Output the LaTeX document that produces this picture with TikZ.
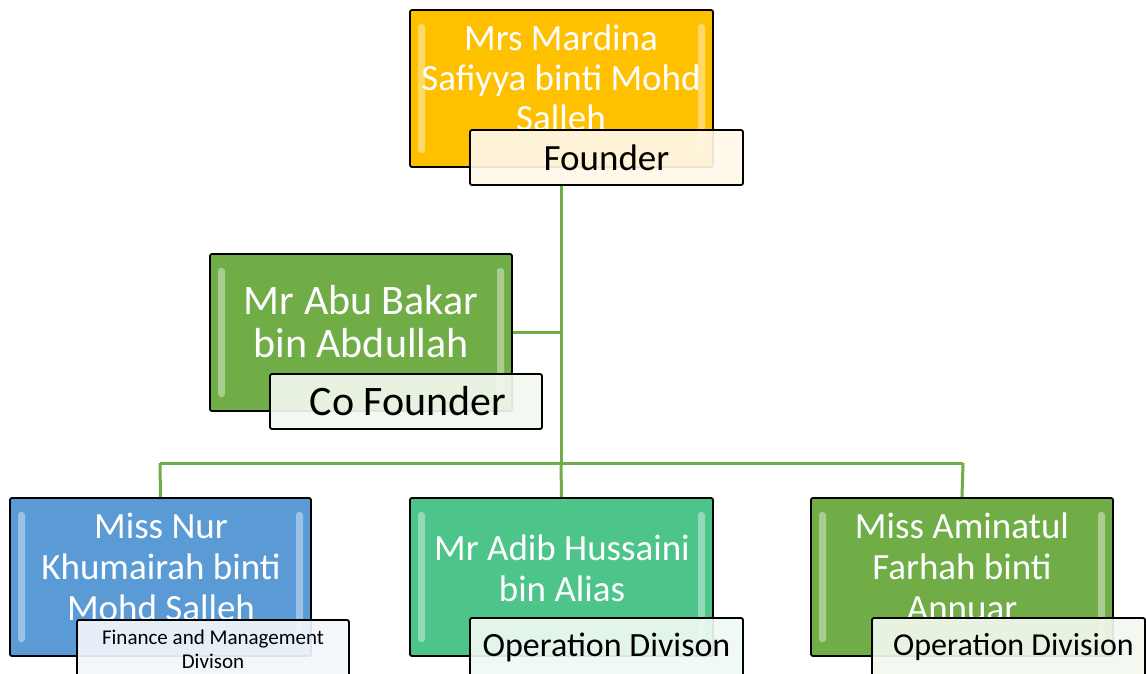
\documentclass[tikz,border=0pt]{standalone}
\usepackage{fontspec}
\setmainfont{Carlito}
\definecolor{cgold}{HTML}{FFC000}
\definecolor{cgreen}{HTML}{70AD47}
\definecolor{cblue}{HTML}{5B9BD5}
\definecolor{cteal}{HTML}{4CC48A}
\definecolor{cline}{HTML}{70AD47}
\definecolor{lblgold}{HTML}{FFF8EA}
\definecolor{lblgreen}{HTML}{F3F8EF}
\definecolor{lblblue}{HTML}{F2F6FB}
\definecolor{lblteal}{HTML}{F0F9F4}
\tikzset{
  namebox/.style={draw=black, line width=1.8pt, rounded corners=2pt, inner sep=0pt},
  nametext/.style={text=white, align=center, inner sep=0pt},
  lblbox/.style={draw=black, line width=1.8pt, rounded corners=2pt, fill opacity=0.92, text opacity=1, inner sep=0pt, align=center},
  conn/.style={draw=cline, line width=3pt},
  shine/.style={fill=white, fill opacity=0.4, draw=none, rounded corners=3pt}
}
\newcommand{\bevel}[4]{% x1 y1 x2 y2
  \fill[shine] (#1+8,#2+14) rectangle (#1+15,#4-14);
  \fill[shine] (#3-15,#2+14) rectangle (#3-8,#4-14);
}
\begin{document}
\begin{tikzpicture}[x=1pt,y=-1pt]
\useasboundingbox (0,0) rectangle (1146,673);
\fill[white] (0,0) rectangle (1146,673);

\coordinate (jv) at (561,463);
\coordinate (jl) at (160,463);
\coordinate (jr) at (963,463);
\coordinate (jc) at (561,332);

% boxes
\node[namebox, fill=cgold, minimum width=303pt, minimum height=157pt] (b1) at (561.5,88.5) {};
\node[namebox, fill=cgreen, minimum width=302pt, minimum height=157pt] (b2) at (361,332.5) {};
\node[namebox, fill=cblue, minimum width=301pt, minimum height=158pt] (b3) at (160.5,577) {};
\node[namebox, fill=cteal, minimum width=303pt, minimum height=158pt] (b4) at (561.5,577) {};
\node[namebox, fill=cgreen, minimum width=302pt, minimum height=158pt] (b5) at (962,577) {};

% connectors
\draw[conn] (561,185) -- (jv);
\draw[conn] (b2.east |- jc) -- (jc);
\draw[conn] (jl) -- (jr);
\draw[conn] (jl) -- (b3.north);
\draw[conn] (jv) -- (b4.north);
\draw[conn] (jr) -- (b5.north);

\bevel{410}{10}{713}{167}
\bevel{210}{254}{512}{411}
\bevel{10}{498}{311}{656}
\bevel{410}{498}{713}{656}
\bevel{811}{498}{1113}{656}

% name texts
\node[nametext, font=\fontsize{37}{40}\selectfont] (t1) at (561,78) {Mrs Mardina\\Safiyya binti Mohd\\Salleh};
\node[nametext, font=\fontsize{42}{43}\selectfont] (t2) at (361,322) {Mr Abu Bakar\\bin Abdullah};
\node[nametext, font=\fontsize{37}{41}\selectfont] (t3) at (161,567) {Miss Nur\\Khumairah binti\\Mohd Salleh};
\node[nametext, font=\fontsize{37}{41}\selectfont] (t4) at (562,568) {Mr Adib Hussaini\\bin Alias};
\node[nametext, font=\fontsize{37}{41}\selectfont] (t5) at (962,567) {Miss Aminatul\\Farhah binti\\Annuar};

% labels
\node[lblbox, fill=lblgold, minimum width=273pt, minimum height=55pt, font=\fontsize{37}{40}\selectfont] (l1) at (606.5,157.5) {Founder};
\node[lblbox, fill=lblgreen, minimum width=272pt, minimum height=55pt, font=\fontsize{42}{43}\selectfont] (l2) at (406,401.5) {\hspace*{4pt}Co Founder};
\node[lblbox, fill=lblblue, minimum width=272pt, minimum height=58pt, font=\fontsize{21}{24}\selectfont] (l3) at (213,649) {Finance and Management\\Divison};
\node[lblbox, fill=lblteal, minimum width=273pt, minimum height=58pt, font=\fontsize{34}{36}\selectfont] (l4) at (606.5,647) {Operation Divison};
\node[lblbox, fill=lblgreen, minimum width=273pt, minimum height=58pt, font=\fontsize{32}{34}\selectfont] (l5) at (1008.5,647) {\hspace*{10pt}Operation Division};
\end{tikzpicture}
\end{document}
